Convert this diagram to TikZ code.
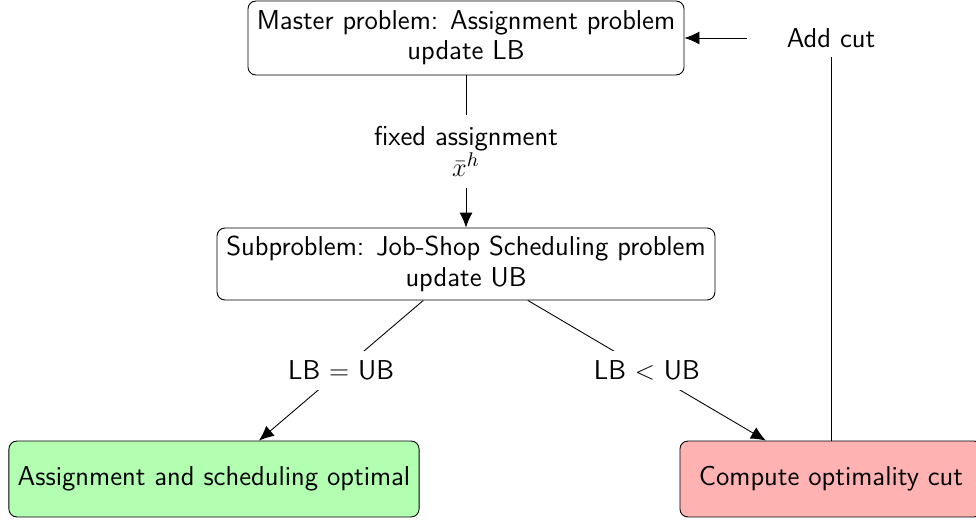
\documentclass[tikz,border=0pt]{standalone}
\usetikzlibrary{arrows.meta}
\begin{document}
\begin{tikzpicture}[x=0.4545pt,y=-0.4545pt,font=\sffamily\fontsize{12.4}{13.8}\selectfont,
  box/.style={draw,rounded corners=3.6pt,inner sep=2pt,align=center},
  lbl/.style={fill=white,inner sep=1pt,minimum height=17.3pt,align=center},
  arr/.style={-{Latex[length=6.8pt,width=5.9pt]}}]
\useasboundingbox (0,0) rectangle (976,523);
\node[box,minimum width=198.2pt,minimum height=33.6pt] (master) at (466,38) {Master problem: Assignment problem\\update LB};
\node[box,minimum width=226.3pt,minimum height=32.7pt] (sub) at (466,264) {Subproblem: Job-Shop Scheduling problem\\update UB};
\node[box,fill=green!30,minimum width=186.4pt,minimum height=34.5pt] (opt) at (214,479) {Assignment and scheduling optimal};
\node[box,fill=red!30,minimum width=137.3pt,minimum height=34.5pt] (cut) at (831,479) {Compute optimality cut};
\draw[arr] (master) -- node[lbl,minimum height=33.2pt]{fixed assignment\\$\bar{x}^h$} (sub);
\draw[arr] (sub) -- node[lbl]{LB $=$ UB} (opt);
\draw[arr] (sub) -- node[lbl]{LB $<$ UB} (cut);
\draw[arr] (cut) |- node[lbl,minimum width=76.4pt]{Add cut} (master);
\end{tikzpicture}
\end{document}
